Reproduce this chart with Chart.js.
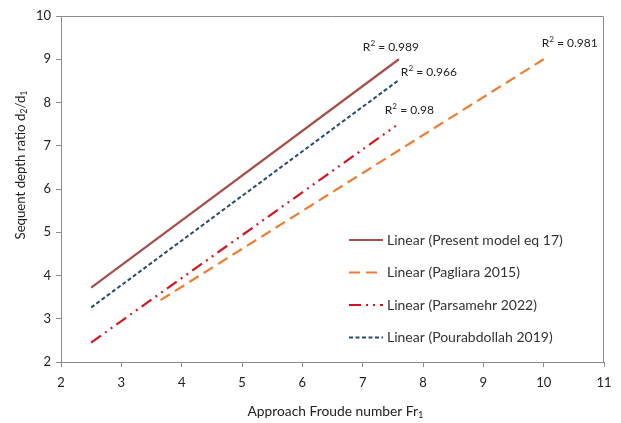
<!DOCTYPE html>
<html>
<head>
<meta charset="utf-8">
<script src="https://cdn.jsdelivr.net/npm/chart.js@4.4.0/dist/chart.umd.min.js"></script>
<style>
  html, body { margin: 0; padding: 0; background: #fff; }
  #wrap { width: 621px; height: 423px; }
</style>
</head>
<body>
<div id="wrap"><canvas id="jumpChart"></canvas></div>
<script>
// trend lines (start / end points)
const presentX = [2.5, 7.6];
const presentY = [3.72, 9.0];
const pagliaraX = [3.65, 10.0];
const pagliaraY = [3.43, 9.0];
const parsamehrX = [2.5, 7.55];
const parsamehrY = [2.45, 7.46];
const pourabX = [2.5, 7.6];
const pourabY = [3.26, 8.52];

const seriesLabels = [
    'Linear (Present model eq 17)',
    'Linear (Pagliara 2015)',
    'Linear (Parsamehr 2022)',
    'Linear (Pourabdollah 2019)'
];
const r2Values = ['0.989', '0.981', '0.98', '0.966'];

const xTicks = [2, 3, 4, 5, 6, 7, 8, 9, 10, 11];
const yTicks = [2, 3, 4, 5, 6, 7, 8, 9, 10];

const FONT = 'Lato, "Open Sans", sans-serif';
const TEXT = '#222';

function pts(xs, ys) {
    return xs.map((x, i) => ({ x: x, y: ys[i] }));
}

const styles = [
    { color: '#A64F4B', dash: [], width: 2.2 },
    { color: '#ED7D31', dash: [11, 6], width: 2.2 },
    { color: '#D2151E', dash: [12, 5, 2, 5, 2, 5], width: 2.2 },
    { color: '#2C4770', dash: [4, 2.5], width: 2 }
];
// where each R² label sits relative to the line's end point (px)
const r2Offsets = [[-36, -12], [-2, -16], [-11, -16], [2, -8]];

// text with sub/superscripts: parts = [[text, 0|-1|1], ...]
function richWidth(ctx, parts, size) {
    let w = 0;
    parts.forEach(p => {
        ctx.font = (p[1] ? size * 0.68 : size) + 'px ' + FONT;
        w += ctx.measureText(p[0]).width;
    });
    return w;
}
function drawRich(ctx, parts, x, y, size) {
    let cx = x;
    parts.forEach(p => {
        const s = p[1] ? size * 0.68 : size;
        ctx.font = s + 'px ' + FONT;
        const dy = p[1] === -1 ? size * 0.25 : (p[1] === 1 ? -size * 0.32 : 0);
        ctx.fillText(p[0], cx, y + dy);
        cx += ctx.measureText(p[0]).width;
    });
}

const frameAndNotes = {
    id: 'frameAndNotes',
    afterDatasetsDraw(chart) {
        const ctx = chart.ctx;
        const a = chart.chartArea;
        ctx.save();
        // top & right frame
        ctx.strokeStyle = '#8c8c8c';
        ctx.lineWidth = 1;
        ctx.beginPath();
        ctx.moveTo(a.left, a.top + 0.5);
        ctx.lineTo(a.right - 0.5, a.top + 0.5);
        ctx.lineTo(a.right - 0.5, a.bottom);
        ctx.stroke();

        ctx.fillStyle = TEXT;
        ctx.textBaseline = 'middle';
        ctx.textAlign = 'left';

        // R² labels
        chart.data.datasets.forEach((ds, i) => {
            const meta = chart.getDatasetMeta(i);
            const end = meta.data[meta.data.length - 1];
            const off = r2Offsets[i];
            drawRich(ctx, [['R', 0], ['2', 1], [' = ' + r2Values[i], 0]],
                     end.x + off[0], end.y + off[1], 12);
        });

        // axis titles
        const xt = [['Approach Froude number Fr', 0], ['1', -1]];
        const xs = 13.8;
        drawRich(ctx, xt, (a.left + a.right) / 2 - richWidth(ctx, xt, xs) / 2 + 3, a.bottom + 50, xs);

        const yt = [['Sequent depth ratio d', 0], ['2', -1], ['/d', 0], ['1', -1]];
        const ys = 13.2;
        ctx.save();
        ctx.translate(21, 165);
        ctx.rotate(-Math.PI / 2);
        drawRich(ctx, yt, -richWidth(ctx, yt, ys) / 2, 0, ys);
        ctx.restore();

        // legend
        ctx.font = '14px ' + FONT;
        const lx = a.left + 288;
        let ly = a.top + 224;
        chart.data.datasets.forEach((ds, i) => {
            const s = styles[i];
            ctx.strokeStyle = s.color;
            ctx.lineWidth = s.width;
            ctx.setLineDash(s.dash);
            ctx.beginPath();
            ctx.moveTo(lx, ly);
            ctx.lineTo(lx + 34, ly);
            ctx.stroke();
            ctx.setLineDash([]);
            ctx.fillStyle = '#333';
            ctx.fillText(ds.label, lx + 38, ly);
            ly += 32.5;
        });
        ctx.restore();
    }
};

const ctx = document.getElementById('jumpChart').getContext('2d');
new Chart(ctx, {
    type: 'scatter',
    data: {
        datasets: [
            { label: seriesLabels[0], data: pts(presentX, presentY) },
            { label: seriesLabels[1], data: pts(pagliaraX, pagliaraY) },
            { label: seriesLabels[2], data: pts(parsamehrX, parsamehrY) },
            { label: seriesLabels[3], data: pts(pourabX, pourabY) }
        ].map((d, i) => Object.assign(d, {
            showLine: true,
            borderColor: styles[i].color,
            borderDash: styles[i].dash,
            borderWidth: styles[i].width,
            pointRadius: 0,
            fill: false
        }))
    },
    options: {
        responsive: true,
        maintainAspectRatio: false,
        animation: false,
        layout: { padding: { left: 0, right: 17, top: 16, bottom: 0 } },
        plugins: { legend: { display: false }, tooltip: { enabled: false } },
        scales: {
            x: {
                type: 'linear', min: 2, max: 11,
                afterBuildTicks: s => { s.ticks = xTicks.map(v => ({ value: v })); },
                afterFit: s => { s.height = 61; },
                grid: { drawOnChartArea: false, drawTicks: true, tickLength: 5, color: '#8c8c8c' },
                border: { display: true, color: '#8c8c8c' },
                ticks: { color: TEXT, font: { family: FONT, size: 13 }, padding: 8, maxRotation: 0 }
            },
            y: {
                type: 'linear', min: 2, max: 10,
                afterBuildTicks: s => { s.ticks = yTicks.map(v => ({ value: v })); },
                afterFit: s => { s.width = 61; },
                grid: { drawOnChartArea: false, drawTicks: true, tickLength: 5, color: '#8c8c8c' },
                border: { display: true, color: '#8c8c8c' },
                ticks: { color: TEXT, font: { family: FONT, size: 13 }, padding: 5 }
            }
        }
    },
    plugins: [frameAndNotes]
});
</script>
</body>
</html>
